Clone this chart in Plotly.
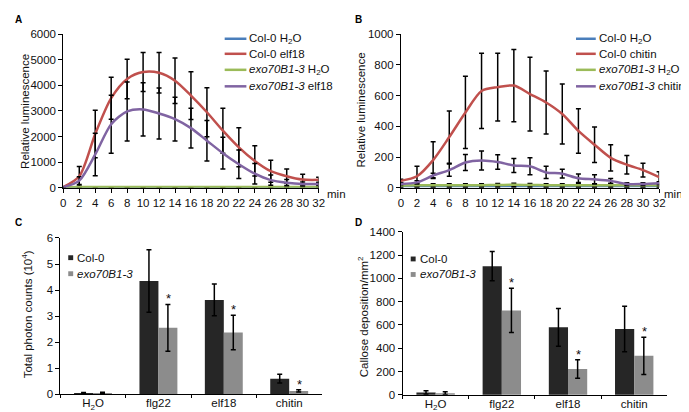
import plotly.graph_objects as go

W, H = 689, 412
FONT = "Liberation Sans, Arial, sans-serif"

# ---------------- data ----------------
time_min = list(range(0, 34, 2))

# Panel A (elf18)
a_col0_h2o = [20, 25, 25, 25, 25, 25, 25, 25, 25, 25, 25, 25, 25, 25, 25, 25, 25]
a_col0_h2o_err = [8, 10, 10, 10, 10, 10, 10, 10, 10, 10, 10, 10, 10, 10, 10, 10, 10]
a_col0_elf18 = [30, 450, 2100, 3500, 4250, 4520, 4490, 4180, 3600, 2950, 2230, 1580, 1050, 650, 450, 320, 310]
a_col0_elf18_err = [20, 380, 930, 820, 770, 760, 790, 890, 930, 960, 880, 760, 590, 430, 280, 210, 100]
a_exo_h2o = [20, 30, 30, 30, 30, 30, 30, 30, 30, 30, 30, 30, 30, 30, 30, 30, 30]
a_exo_h2o_err = [8, 10, 10, 10, 10, 10, 10, 10, 10, 10, 10, 10, 10, 10, 10, 10, 10]
a_exo_elf18 = [20, 280, 1300, 2480, 2980, 3060, 2900, 2680, 2330, 1840, 1350, 920, 550, 300, 200, 150, 150]
a_exo_elf18_err = [10, 150, 830, 1130, 1150, 1040, 1000, 850, 780, 790, 620, 560, 400, 200, 120, 80, 60]

# Panel B (chitin)
b_col0_h2o = [12, 12, 12, 12, 12, 12, 12, 12, 12, 12, 12, 12, 12, 12, 12, 12, 12]
b_col0_h2o_err = [8, 8, 8, 8, 8, 8, 8, 8, 8, 8, 8, 8, 8, 8, 8, 8, 8]
b_col0_chitin = [45, 75, 180, 330, 490, 630, 655, 665, 610, 555, 480, 370, 280, 195, 150, 115, 70]
b_col0_chitin_err = [10, 65, 120, 170, 235, 245, 220, 235, 240, 205, 195, 145, 115, 85, 60, 45, 35]
b_exo_h2o = [15, 16, 17, 17, 17, 17, 18, 20, 18, 17, 17, 17, 17, 17, 17, 17, 17]
b_exo_h2o_err = [8, 10, 10, 10, 10, 10, 10, 10, 10, 10, 10, 10, 10, 10, 10, 10, 10]
b_exo_chitin = [25, 35, 80, 115, 165, 178, 168, 145, 140, 100, 92, 62, 55, 45, 25, 25, 30]
b_exo_chitin_err = [5, 10, 15, 40, 52, 62, 47, 45, 55, 40, 28, 28, 30, 15, 8, 8, 10]

# Panel C / D (bars)
treatments = ["H<sub>2</sub>O", "flg22", "elf18", "chitin"]
c_col0 = [0.05, 4.35, 3.62, 0.60]
c_col0_err = [0.02, 1.20, 0.61, 0.17]
c_exo = [0.05, 2.55, 2.37, 0.13]
c_exo_err = [0.03, 0.90, 0.66, 0.04]
c_signif = [False, True, True, True]

d_col0 = [20, 1105, 580, 565]
d_col0_err = [15, 125, 162, 195]
d_exo = [15, 725, 222, 335]
d_exo_err = [12, 190, 80, 160]
d_signif = [False, True, True, True]

# ---------------- styles ----------------
C_BLUE = "#4A7EBB"
C_RED = "#C0504D"
C_GREEN = "#9BBB59"
C_PURPLE = "#8064A2"
C_DARK = "#262626"
C_LIGHT = "#8C8C8C"
FS = 11.5


def px(x):
    return x / W


def py(y):
    return 1 - y / H


fig = go.Figure()


def line_trace(y, err, color, xa, ya, name):
    return go.Scatter(
        x=time_min, y=y, mode="lines", name=name, showlegend=False,
        line=dict(color=color, width=2.5, shape="spline", smoothing=0.8),
        error_y=dict(type="data", array=err, visible=True, color="black", thickness=1.5, width=2.5),
        xaxis=xa, yaxis=ya,
    )


for y, e, c, n in [
    (a_col0_h2o, a_col0_h2o_err, C_BLUE, "Col-0 H2O"),
    (a_col0_elf18, a_col0_elf18_err, C_RED, "Col-0 elf18"),
    (a_exo_h2o, a_exo_h2o_err, C_GREEN, "exo70B1-3 H2O"),
    (a_exo_elf18, a_exo_elf18_err, C_PURPLE, "exo70B1-3 elf18"),
]:
    fig.add_trace(line_trace(y, e, c, "x", "y", n))

for y, e, c, n in [
    (b_col0_h2o, b_col0_h2o_err, C_BLUE, "Col-0 H2O"),
    (b_col0_chitin, b_col0_chitin_err, C_RED, "Col-0 chitin"),
    (b_exo_h2o, b_exo_h2o_err, C_GREEN, "exo70B1-3 H2O"),
    (b_exo_chitin, b_exo_chitin_err, C_PURPLE, "exo70B1-3 chitin"),
]:
    fig.add_trace(line_trace(y, e, c, "x2", "y2", n))


def bar_trace(y, err, color, xa, ya, name):
    return go.Bar(
        x=treatments, y=y, name=name, showlegend=False, marker=dict(color=color, line=dict(width=0)),
        error_y=dict(type="data", array=err, visible=True, color="black", thickness=1.5, width=2.5),
        xaxis=xa, yaxis=ya,
    )


fig.add_trace(bar_trace(c_col0, c_col0_err, C_DARK, "x3", "y3", "Col-0"))
fig.add_trace(bar_trace(c_exo, c_exo_err, C_LIGHT, "x3", "y3", "exo70B1-3"))
fig.add_trace(bar_trace(d_col0, d_col0_err, C_DARK, "x4", "y4", "Col-0"))
fig.add_trace(bar_trace(d_exo, d_exo_err, C_LIGHT, "x4", "y4", "exo70B1-3"))

tickfont = dict(family=FONT, size=FS, color="#111")
axis_common = dict(
    showgrid=False, zeroline=False, showline=True, linecolor="black", linewidth=1,
    ticks="outside", tickcolor="black", tickwidth=1, tickfont=tickfont,
    fixedrange=True,
)

fig.update_layout(
    width=W, height=H,
    margin=dict(l=0, r=0, t=0, b=0),
    paper_bgcolor="white", plot_bgcolor="white",
    barmode="group", bargap=0.42, bargroupgap=0,
    showlegend=False,
    font=dict(family=FONT, size=FS, color="#111"),
    xaxis=dict(domain=[px(53), px(311.7)], range=[0, 32], dtick=2, anchor="y", ticklen=4, **axis_common),
    yaxis=dict(domain=[py(179), py(20.7)], range=[0, 6000], dtick=1000, anchor="x", ticklen=4, **axis_common),
    xaxis2=dict(domain=[px(395), px(656.7)], range=[0, 32], dtick=2, anchor="y2", ticklen=4, **axis_common),
    yaxis2=dict(domain=[py(179), py(20.7)], range=[0, 1000], dtick=200, anchor="x2", ticklen=4, **axis_common),
    xaxis3=dict(domain=[px(50), px(315)], anchor="y3", tickson="boundaries", ticklen=3,
                ticklabelstandoff=-2, **axis_common),
    yaxis3=dict(domain=[py(391.7), py(230.7)], range=[0, 6], dtick=1, anchor="x3", ticklen=4, **axis_common),
    xaxis4=dict(domain=[px(396.7), px(665)], anchor="y4", tickson="boundaries", ticklen=3,
                ticklabelstandoff=-2, **axis_common),
    yaxis4=dict(domain=[py(392.3), py(224.3)], range=[0, 1400], dtick=200, anchor="x4", ticklen=4, **axis_common),
)

ann = []
shapes = []

# Panel labels
for lab, x, y in [("A", 2, 6), ("B", 347, 6), ("C", 2, 215), ("D", 347, 215)]:
    ann.append(dict(text="<b>%s</b>" % lab, x=px(x), y=py(y), xref="paper", yref="paper",
                    xanchor="left", yanchor="middle", showarrow=False,
                    font=dict(family=FONT, size=10, color="black")))

# Axis titles
for t, x, y in [("Relative luminescence", 14, 100), ("Relative luminescence", 355, 99),
                ("Total photon counts (10<sup>4</sup>)", 16.5, 309),
                ("Callose deposition/mm<sup>2</sup>", 357, 312)]:
    ann.append(dict(text=t, x=px(x), y=py(y), xref="paper", yref="paper", textangle=-90,
                    xanchor="center", yanchor="middle", showarrow=False,
                    font=dict(family=FONT, size=FS, color="#111")))

# "min" labels
for x in [330, 671]:
    ann.append(dict(text="min", x=px(x), y=py(185.5), xref="paper", yref="paper",
                    xanchor="center", yanchor="middle", showarrow=False,
                    font=dict(family=FONT, size=FS, color="#111")))

# Line legends (A and B)
leg_rows = [25.5, 41, 57.5, 74.5]
leg_a = ["Col-0 H<sub>2</sub>O", "Col-0 elf18", "<i>exo70B1-3</i> H<sub>2</sub>O", "<i>exo70B1-3</i> elf18"]
leg_b = ["Col-0 H<sub>2</sub>O", "Col-0 chitin", "<i>exo70B1-3</i> H<sub>2</sub>O", "<i>exo70B1-3</i> chitin"]
colors = [C_BLUE, C_RED, C_GREEN, C_PURPLE]
for labels, x0, x1 in [(leg_a, 216.5, 238.5), (leg_b, 572.5, 592.5)]:
    for lab, c, yy in zip(labels, colors, leg_rows):
        shapes.append(dict(type="line", xref="paper", yref="paper", x0=px(x0), x1=px(x1),
                           y0=py(yy), y1=py(yy), line=dict(color=c, width=2.5)))
        ann.append(dict(text=lab, x=px(x1 + 1), y=py(yy), xref="paper", yref="paper",
                        xanchor="left", yanchor="middle", showarrow=False,
                        font=dict(family=FONT, size=FS, color="#111")))

# Bar legends (C and D)
for sx, ys in [(58, [251, 267.5]), (405, [252.3, 268.3])]:
    for lab, c, yy in zip(["Col-0", "<i>exo70B1-3</i>"], [C_DARK, C_LIGHT], ys):
        shapes.append(dict(type="rect", xref="paper", yref="paper", x0=px(sx), x1=px(sx + 5),
                           y0=py(yy + 2.5), y1=py(yy - 2.5), fillcolor=c, line=dict(width=0)))
        ann.append(dict(text=lab, x=px(sx + 7), y=py(yy), xref="paper", yref="paper",
                        xanchor="left", yanchor="middle", showarrow=False,
                        font=dict(family=FONT, size=FS, color="#111")))

# Significance stars
for xa, ya, vals, errs, sig in [("x3", "y3", c_exo, c_exo_err, c_signif),
                                ("x4", "y4", d_exo, d_exo_err, d_signif)]:
    for cat, v, e, s in zip(treatments, vals, errs, sig):
        if s:
            ann.append(dict(text="*", x=cat, y=v + e, xref=xa, yref=ya, xshift=10, yshift=-4,
                            xanchor="center", yanchor="bottom", showarrow=False,
                            font=dict(family=FONT, size=13, color="#111")))

fig.update_layout(annotations=ann, shapes=shapes)
fig.write_html("out.html")
